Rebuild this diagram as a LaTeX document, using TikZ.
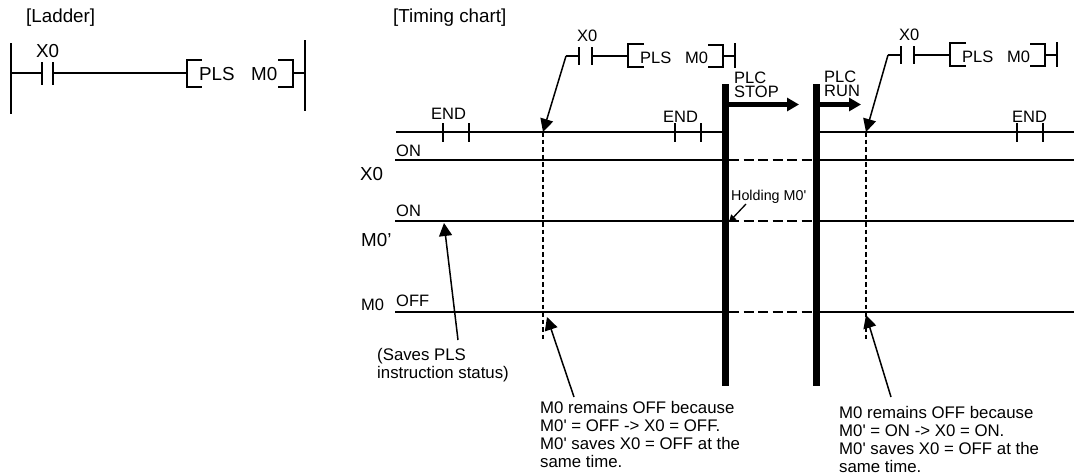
\documentclass[tikz,border=0pt]{standalone}
\usepackage{fontspec}
\newfontfamily\labelfont{Liberation Sans}
\usetikzlibrary{arrows.meta}
\tikzset{
  lbl/.style={anchor=base west, inner sep=0pt, font=\labelfont\fontsize{16.5}{18}\selectfont},
  biglbl/.style={anchor=base west, inner sep=0pt, font=\labelfont\fontsize{18.8}{20}\selectfont},
  note/.style={anchor=north west, inner sep=0pt, align=left, font=\labelfont\fontsize{16.8}{18}\selectfont},
  plc/.style={anchor=north west, inner sep=0pt, align=left, font=\labelfont\fontsize{16.5}{14}\selectfont},
  wire/.style={line width=1.5pt},
  ptr/.style={line width=1.5pt, -{Triangle[length=13pt,width=13pt]}},
  hold/.style={line width=1.5pt, dash pattern=on 10pt off 4.5pt},
  scan/.style={line width=1.3pt, dash pattern=on 4.5pt off 3pt},
  bar/.style={line width=7pt},
  flow/.style={line width=5.5pt, -{Triangle[length=12pt,width=13pt]}}
}
\begin{document}
\begin{tikzpicture}[x=1pt,y=-1pt]
    \useasboundingbox (0,0) rectangle (1074,475);

    % Ladder (left)
    \node[biglbl] (ladder) at (26,22) {[Ladder]}; \node[biglbl] (chart) at (393,22) {[Timing chart]};
    \node[biglbl] (x0l) at (36,57) {X0}; \node[biglbl] (plsl) at (199,80) {PLS}; \node[biglbl] (m0l) at (251,80) {M0};
    \draw[wire] (11,43)--(11,114); \draw[wire] (305,40)--(305,111);
    \draw[wire] (11,73)--(42,73); \draw[wire] (42,62)--(42,85); \draw[wire] (53,62)--(53,85);
    \draw[wire] (53,73)--(187,73); \draw[wire] (202,60)--(187,60)--(187,87)--(202,87);
    \draw[wire] (278,60)--(293,60)--(293,87)--(278,87); \draw[wire] (293,73)--(305,73);

    % Rungs above the chart
    \foreach \dx/\dy/\n in {0/0/a,322/-1/b} {
      \begin{scope}[shift={(\dx,\dy)}]
        \node[lbl] (x0\n) at (577,41) {X0}; \node[lbl] (pls\n) at (640,63) {PLS}; \node[lbl] (m0\n) at (685,63) {M0};
        \coordinate (lead\n) at (566,56);
        \draw[wire] (lead\n)--(579,56); \draw[wire] (579,47)--(579,65); \draw[wire] (592,47)--(592,65);
        \draw[wire] (592,56)--(628,56); \draw[wire] (644,44)--(628,44)--(628,67)--(644,67);
        \draw[wire] (708,45)--(723,45)--(723,67)--(708,67); \draw[wire] (723,56)--(735,56);
        \draw[wire] (735,43)--(735,68);
      \end{scope}
    }

    % END marks
    \node[lbl] (enda) at (431,119) {END}; \node[lbl] (endb) at (663,122) {END}; \node[lbl] (endc) at (1012,122) {END};
    \foreach \x in {443,469,675,701,1017,1043} { \draw[wire] (\x,123)--(\x,142); }

    % Signals
    \draw[wire] (396,132)--(722,132); \draw[wire] (816,132)--(1074,132);
    \foreach \y in {160,221} {
      \draw[wire] (395,\y)--(725,\y); \draw[hold] (729,\y)--(815,\y); \draw[wire] (816,\y)--(1074,\y);
    }
    \draw[wire] (395,312)--(725,312); \draw[hold] (729,312)--(815,312); \draw[wire] (816,312)--(1074,312);
    \node[lbl] (ona) at (396,156) {ON}; \node[lbl] (onb) at (396,216) {ON}; \node[lbl] (off) at (396,306) {OFF};
    \node[biglbl] (x0) at (360,180) {X0}; \node[biglbl] (m0p) at (361,246) {M0’}; \node[lbl] (m0) at (361,310) {M0};

    % Scan points
    \coordinate (scana) at (543,132); \coordinate (scanb) at (866,132);
    \draw[scan] (scana)--(543,339); \draw[scan] (scanb)--(866,339);
    \draw[ptr] (leada)--(scana); \draw[ptr] (leadb)--(scanb);

    % STOP and RUN
    \coordinate (stop) at (725,84); \coordinate (run) at (816,84);
    \draw[bar] (stop)--(725,386); \draw[bar] (run)--(816,386);
    \draw[flow] (725,104.5)--(799,104.5); \draw[flow] (816,104.5)--(861,104.5);
    \node[plc] (plcstop) at (734,72) {PLC\\STOP}; \node[plc] (plcrun) at (824,71) {PLC\\RUN};

    % Notes
    \node[lbl,font=\labelfont\fontsize{14.3}{16}\selectfont] (hold) at (731,200) {Holding M0'};
    \coordinate (holda) at (746,204); \coordinate (holdb) at (729,222);
    \draw[line width=1.3pt,-{Triangle[length=7pt,width=7pt]}] (holda)--(holdb);
    \node[note] (saves) at (377,348) {(Saves PLS\\instruction status)};
    \coordinate (savefrom) at (458,340); \coordinate (saveto) at (444,223);
    \draw[ptr] (savefrom)--(saveto);
    \node[note] (notea) at (540,401) {M0 remains OFF because\\M0' = OFF -> X0 = OFF.\\M0' saves X0 = OFF at the\\same time.};
    \node[note] (noteb) at (839,406) {M0 remains OFF because\\M0' = ON -> X0 = ON.\\M0' saves X0 = OFF at the\\same time.};
    \coordinate (afrom) at (574,397); \coordinate (ato) at (547,317);
    \coordinate (bfrom) at (891,397); \coordinate (bto) at (866,315);
    \draw[ptr] (afrom)--(ato); \draw[ptr] (bfrom)--(bto);
\end{tikzpicture}
\end{document}
